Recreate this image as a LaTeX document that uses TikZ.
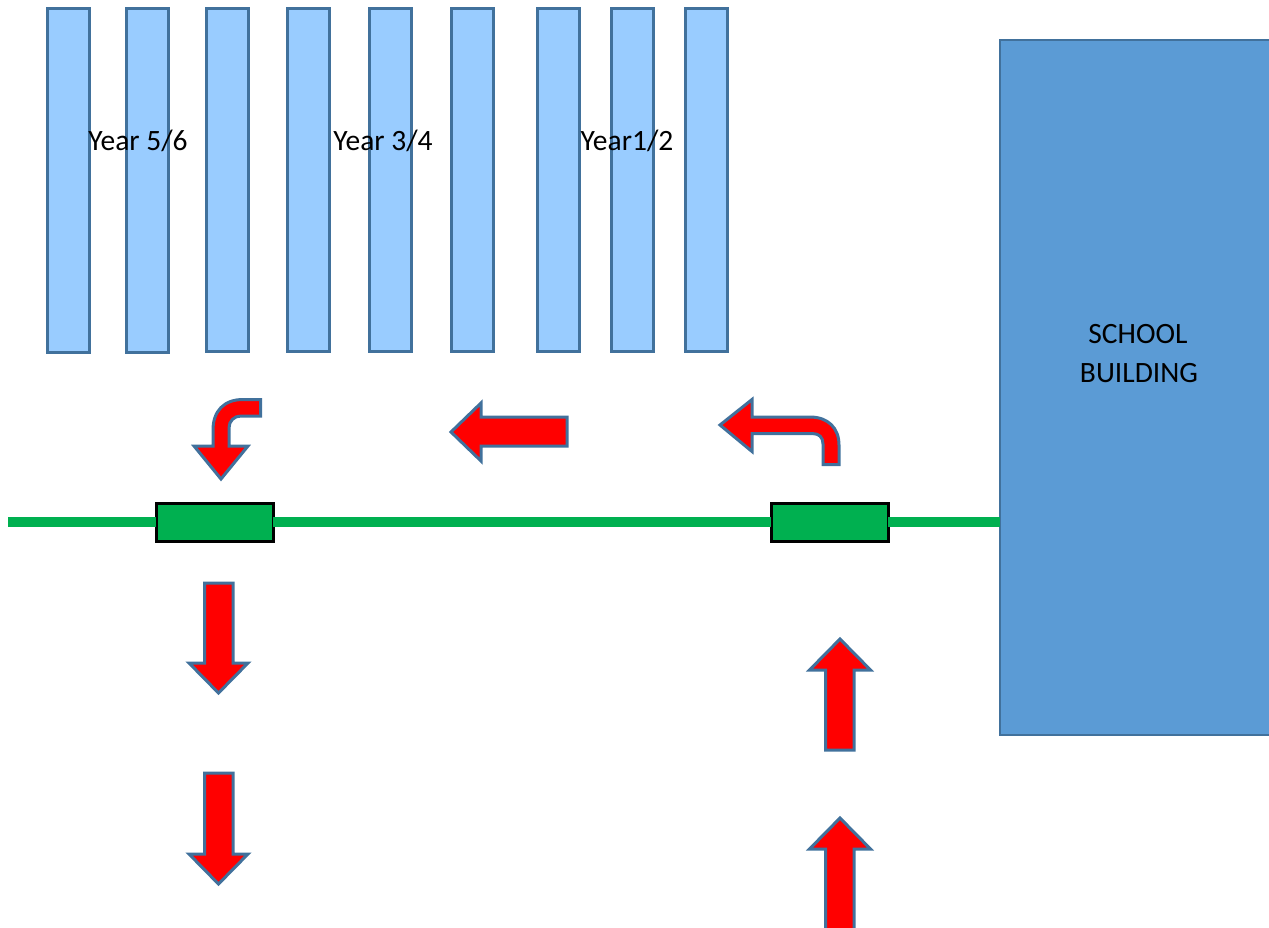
\documentclass[tikz,border=0pt]{standalone}
\usepackage{fontspec}
\setmainfont{Carlito}
\begin{document}
\begin{tikzpicture}[x=1pt,y=-1pt,
  bar/.style={draw=barline,fill=barfill,line width=3pt,outer sep=0pt,minimum width=42pt,minimum height=343pt,inner sep=0pt,anchor=north west},
  gate/.style={draw=black,fill=gategreen,line width=3pt,outer sep=0pt,minimum width=117pt,minimum height=38pt,inner sep=0pt,anchor=north west},
  fence/.style={draw=gategreen,line width=10pt},
  flow/.style={draw=barline,fill=red,line width=3pt,line join=miter},
  lbl/.style={font=\fontsize{29.5}{35}\selectfont,text=black,inner sep=0pt,align=center}]
\definecolor{barline}{HTML}{41719C}
\definecolor{barfill}{HTML}{99CCFF}
\definecolor{gategreen}{HTML}{00B050}
\definecolor{bluebuild}{HTML}{5B9BD5}
\useasboundingbox (0,0) rectangle (1269,928);
\clip (0,0) rectangle (1269,928);
% bars
\node[bar] (b1) at (47.5,9) {};
\node[bar] (b2) at (126,9) {};
\node[bar] (b3) at (206,8.5) {};
\node[bar] (b4) at (287.5,8.5) {};
\node[bar] (b5) at (369.5,8.5) {};
\node[bar] (b6) at (451.5,8.5) {};
\node[bar] (b7) at (537,8.5) {};
\node[bar] (b8) at (611,8.5) {};
\node[bar] (b9) at (685,8.5) {};
% building
\node[draw=barline,fill=bluebuild,line width=2pt,outer sep=0pt,minimum width=272pt,minimum height=695pt,inner sep=0pt,anchor=north west] (build) at (1000,40) {};
% fence and gates
\node[gate] (g1) at (156,503) {};
\node[gate] (g2) at (771,503) {};
\coordinate (fstart) at (8,522);
\coordinate (fend) at (1000,522);
\draw[fence] (fstart) -- (g1.west);
\draw[fence] (g1.east) -- (g2.west);
\draw[fence] (g2.east) -- (fend);
% labels
\node[lbl] (l1) at (138,141) {Year 5/6};
\node[lbl] (l2) at (383,141) {Year 3/4};
\node[lbl] (l3) at (627,141) {Year1/2};
\node[lbl] (l4) at (1138,334) {SCHOOL};
\node[lbl] (l5) at (1139,373) {BUILDING};
% straight arrows
\draw[flow] (204.5,583) -- (233,583) -- (233,663) -- (248,663) -- (218.5,693) -- (189,663) -- (204.5,663) -- cycle;
\draw[flow] (204.5,773) -- (233,773) -- (233,854) -- (248,854) -- (218.5,884) -- (189,854) -- (204.5,854) -- cycle;
\draw[flow] (825.5,750) -- (854,750) -- (854,670) -- (870.5,670) -- (840,639) -- (809.5,670) -- (825.5,670) -- cycle;
\draw[flow] (825.5,935) -- (854,935) -- (854,849) -- (870.5,849) -- (840,818) -- (809.5,849) -- (825.5,849) -- cycle;
\draw[flow] (567,417) -- (481,417) -- (481,403) -- (451,432) -- (481,461) -- (481,446) -- (567,446) -- cycle;
% bent arrows
\draw[flow] (839,464.5) -- (823,464.5) -- (823,444) .. controls (823,437) and (819,433.5) .. (812,433.5) -- (752,433.5) -- (752,451.5) -- (720,425) -- (752,399.5) -- (752,417) -- (810,417) .. controls (828,417) and (839,428) .. (839,445) -- cycle;
\draw[flow] (260.5,399.5) -- (260.5,416) -- (241,416) .. controls (234,416) and (229,421) .. (229,428) -- (229,446) -- (248,446) -- (221,479) -- (194,446) -- (213,446) -- (213,430) .. controls (213,411) and (224,399.5) .. (243,399.5) -- cycle;
\end{tikzpicture}
\end{document}
